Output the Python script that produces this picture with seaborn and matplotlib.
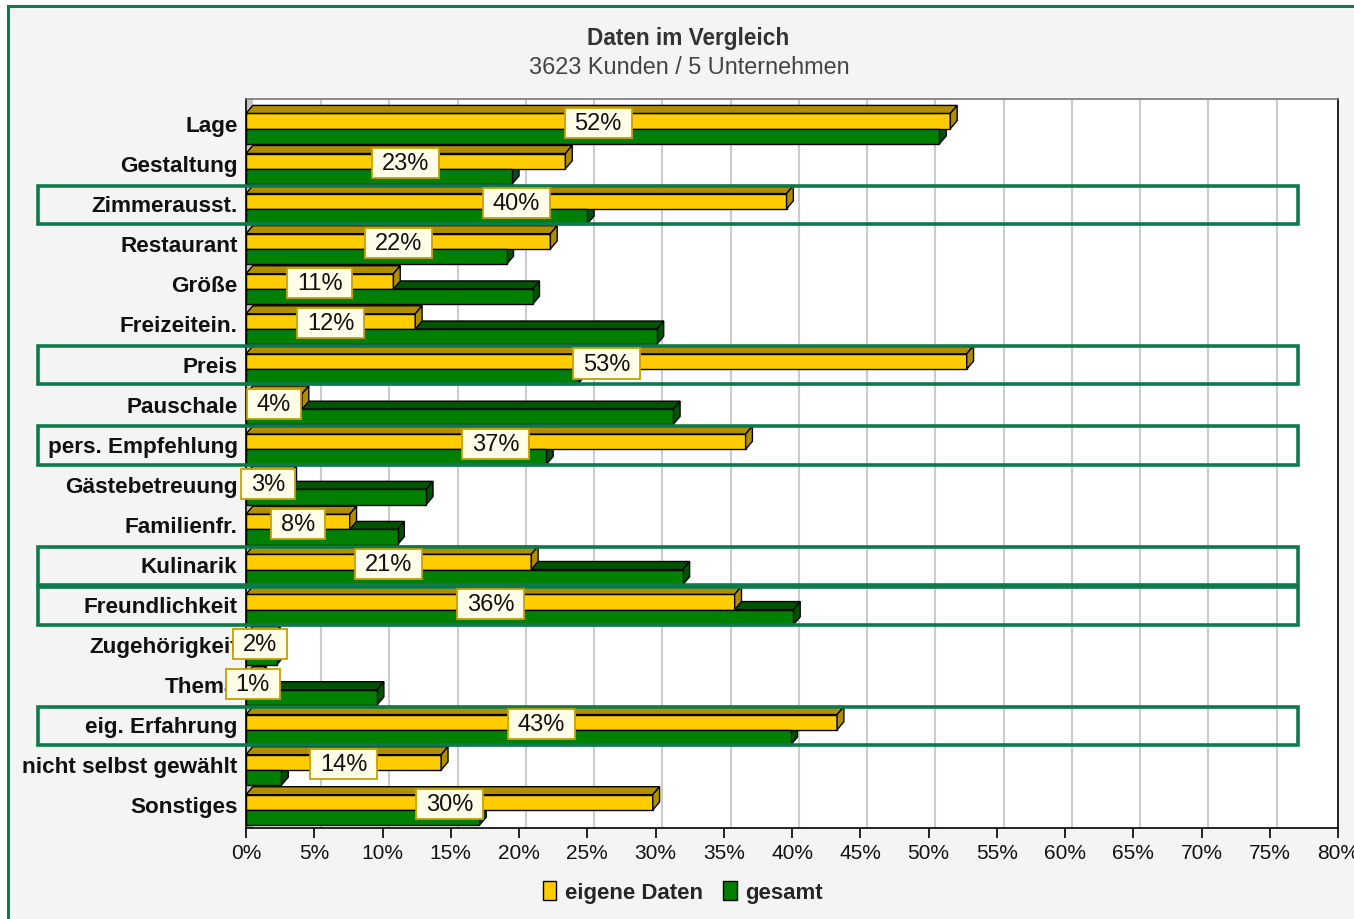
import matplotlib
matplotlib.use("Agg")
import matplotlib.pyplot as plt
import matplotlib.transforms as mtransforms
from matplotlib.patches import Polygon, Rectangle, Patch
from matplotlib.path import Path
from matplotlib import font_manager
import seaborn as sns
import pandas as pd
import numpy as np

# ---------------- data ----------------
categories = ["Lage", "Gestaltung", "Zimmerausst.", "Restaurant", "Größe", "Freizeitein.",
              "Preis", "Pauschale", "pers. Empfehlung", "Gästebetreuung", "Familienfr.",
              "Kulinarik", "Freundlichkeit", "Zugehörigkeit", "Thema", "eig. Erfahrung",
              "nicht selbst gewählt", "Sonstiges"]
eigene_daten = [51.6, 23.4, 39.6, 22.3, 10.8, 12.4, 52.8, 4.1, 36.6, 3.2, 7.6,
                20.9, 35.8, 2.0, 1.0, 43.3, 14.3, 29.8]
gesamt = [50.8, 19.5, 25.0, 19.1, 21.0, 30.1, 24.3, 31.3, 22.0, 13.2, 11.1,
          32.0, 40.1, 2.25, 9.6, 39.9, 2.6, 17.1]
series = ["eigene Daten", "gesamt"]
highlighted = ["Zimmerausst.", "Preis", "pers. Empfehlung", "Kulinarik",
               "Freundlichkeit", "eig. Erfahrung"]
x_ticks = list(range(0, 85, 5))
x_tick_labels = [f"{t}%" for t in x_ticks]
title = "Daten im Vergleich"
subtitle = "3623 Kunden / 5 Unternehmen"

# ---------------- style ----------------
YELLOW, YELLOW_DARK = "#ffcc00", "#b08e00"
GREEN, GREEN_DARK = "#008000", "#005400"
FRAME_GREEN = "#0e7a4c"

sns.set_theme(style="white")
names = {f.name for f in font_manager.fontManager.ttflist}
main_font = "Liberation Sans" if "Liberation Sans" in names else "DejaVu Sans"
plt.rcParams["font.family"] = [main_font, "DejaVu Sans"]

W, H = 1354, 920
fig = plt.figure(figsize=(W / 100, H / 100), dpi=100, facecolor="white")

# outer frame
frame = Rectangle((8 / W, -0.05), 1.1, (1 - 7 / H) + 0.05,
                  transform=fig.transFigure, facecolor="#f4f4f4",
                  edgecolor=FRAME_GREEN, linewidth=2.2, zorder=-10)
fig.patches.append(frame)

ax = fig.add_axes([246 / W, 1 - 829 / H, (1338 - 246) / W, (829 - 100) / H])
ax.set_zorder(1)
ax.set_facecolor("white")

df = pd.DataFrame({
    "Kategorie": categories * 2,
    "Serie": [series[0]] * len(categories) + [series[1]] * len(categories),
    "Wert": eigene_daten + gesamt,
})

sns.barplot(data=df, y="Kategorie", x="Wert", hue="Serie", order=categories,
            hue_order=series, palette={series[0]: YELLOW, series[1]: GREEN},
            orient="h", width=0.76, saturation=1, edgecolor="black",
            linewidth=1.0, legend=False, ax=ax)

dx, dy = 0.5, 0.2  # depth of the pseudo-3D effect (data units)

# faces of the 3D bars
dark = [YELLOW_DARK, GREEN_DARK]
face_z = [3, 2]
for container, dcol, z in zip(ax.containers, dark, face_z):
    for bar in container:
        bar.set_zorder(3)
        x0, w = bar.get_x(), bar.get_width()
        y0, h = bar.get_y(), bar.get_height()
        top = Polygon([(x0, y0), (x0 + w, y0), (x0 + w + dx, y0 - dy), (x0 + dx, y0 - dy)],
                      closed=True, facecolor=dcol, edgecolor="black", linewidth=1.0, zorder=z)
        side = Polygon([(x0 + w, y0), (x0 + w, y0 + h), (x0 + w + dx, y0 + h - dy),
                        (x0 + w + dx, y0 - dy)],
                       closed=True, facecolor=dcol, edgecolor="black", linewidth=1.0, zorder=z)
        ax.add_patch(top)
        ax.add_patch(side)

# left wall
ax.add_patch(Rectangle((0, -0.74), dx, 18.3, facecolor="#c4c4c4", edgecolor="none", zorder=1))

# gridlines on the back wall
ax.vlines([t + dx for t in x_ticks[1:-1]], -0.74, 17.5, colors="#cccccc",
          linewidth=1.5, zorder=0.5)


def wide_box(x0, y0, width, height, mutation_size):
    """Label box wider than tall (separate x / y padding)."""
    px, py = 0.42 * mutation_size, 0.17 * mutation_size
    verts = [(x0 - px, y0 - py), (x0 + width + px, y0 - py),
             (x0 + width + px, y0 + height + py), (x0 - px, y0 + height + py),
             (x0 - px, y0 - py)]
    codes = [Path.MOVETO, Path.LINETO, Path.LINETO, Path.LINETO, Path.CLOSEPOLY]
    return Path(verts, codes)


# value labels
for i, v in enumerate(eigene_daten):
    ax.text(v / 2, i - 0.14, f"{round(v)}%", ha="center", va="center", fontsize=17,
            color="#111111", zorder=10, clip_on=False,
            bbox=dict(boxstyle=wide_box, facecolor="#fffde8",
                      edgecolor="#c8a000", linewidth=1.3))

# highlight boxes
blend = mtransforms.blended_transform_factory(ax.transAxes, ax.transData)
for c in highlighted:
    i = categories.index(c)
    ax.add_patch(Rectangle((-0.1905, i - 0.57), 1.1539, 0.95, transform=blend,
                           fill=False, edgecolor=FRAME_GREEN, linewidth=2.6,
                           clip_on=False, zorder=8))

ax.set_xlim(0, 80)
ax.set_ylim(17.45, -0.74)
ax.set_xticks(x_ticks)
ax.set_xticklabels(x_tick_labels, fontsize=15)
ax.set_xlabel("")
ax.set_ylabel("")
ax.tick_params(axis="y", length=0, pad=6, labelsize=16.2)
up = mtransforms.ScaledTranslation(0, 4 / 72, fig.dpi_scale_trans)
for lab in ax.get_yticklabels():
    lab.set_fontweight("bold")
    lab.set_color("#111111")
    lab.set_transform(lab.get_transform() + up)
ax.tick_params(axis="x", direction="out", length=7, width=1.2, color="black",
               pad=4, bottom=True, labelcolor="#111111")
for s in ax.spines.values():
    s.set_visible(True)
    s.set_color("black")
    s.set_linewidth(1.2)
ax.spines["top"].set_color("#777777")

# titles
fig.text(688 / W, 1 - 39 / H, title, ha="center", va="center", fontsize=16.3,
         fontweight="bold", color="#333333")
fig.text(689 / W, 1 - 67 / H, subtitle, ha="center", va="center", fontsize=16.9,
         color="#444444")

# legend
handles = [Patch(facecolor=YELLOW, edgecolor="black"), Patch(facecolor=GREEN, edgecolor="black")]
fig.legend(handles, series, loc="center", bbox_to_anchor=(683 / W, 1 - 893 / H), ncol=2,
           frameon=False, handlelength=0.6, handleheight=0.9, handletextpad=0.4,
           columnspacing=0.9, prop={"weight": "bold", "size": 16})

fig.savefig("out.png", dpi=100, facecolor=fig.get_facecolor())
